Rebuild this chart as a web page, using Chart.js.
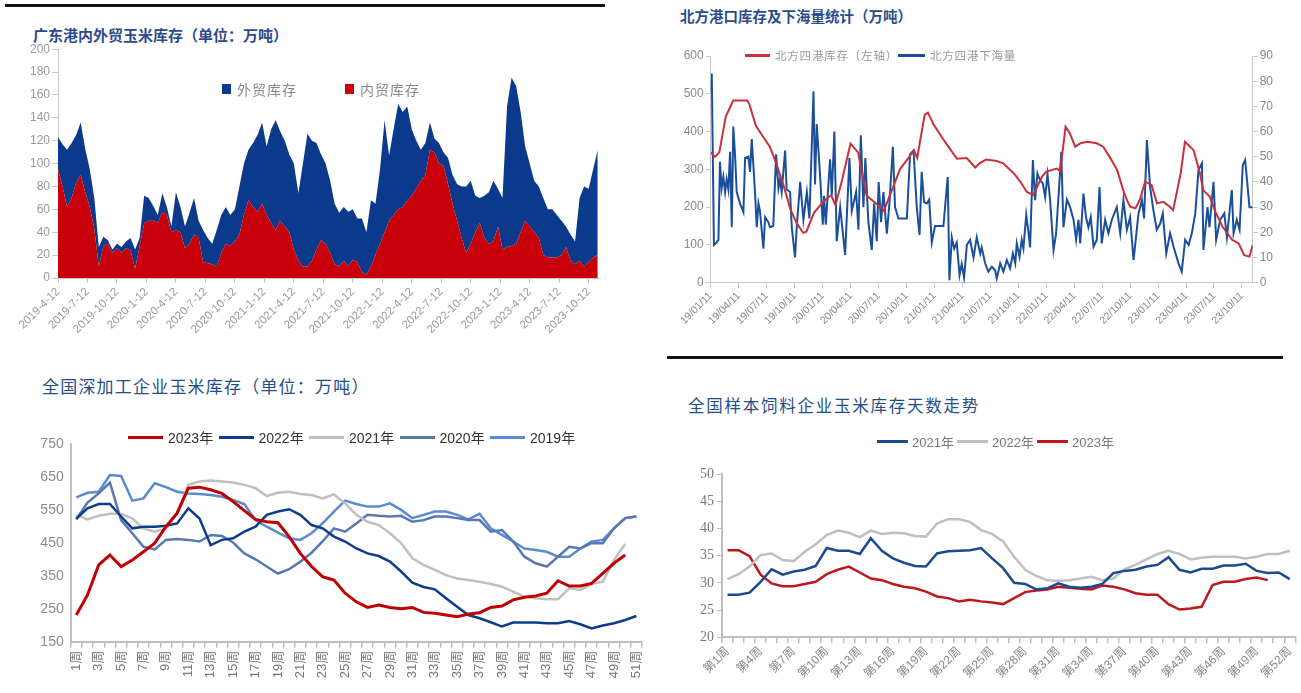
<!DOCTYPE html>
<html>
<head>
<meta charset="utf-8">
<script src="https://cdn.jsdelivr.net/npm/chart.js@4.4.0/dist/chart.umd.min.js"></script>
<style>
  body { margin: 0; background: #fff; }
  #page { position: relative; width: 1301px; height: 693px; overflow: hidden; font-family: "Liberation Sans", "Noto Sans CJK SC", sans-serif; }
  .rule { position: absolute; background: #111; }
  .title { position: absolute; white-space: nowrap; line-height: 1; font-family: "Noto Sans CJK SC", sans-serif; }
  canvas { position: absolute; }
  .legend { position: absolute; display: flex; align-items: center; white-space: nowrap; }
  .legend .item { display: flex; align-items: center; }
  .legend .mark { display: inline-block; }
</style>
</head>
<body>
<div id="page">
  <div class="rule" style="left:5px;top:4px;width:600px;height:3px"></div>
  <div class="rule" style="left:667px;top:356px;width:616px;height:3px"></div>

  <div class="title" style="left:33px;top:27px;font-size:15px;font-weight:700;color:#2b4c8c">广东港内外贸玉米库存（单位：万吨）</div>
  <div class="title" style="left:680px;top:9px;font-size:14.5px;font-weight:700;color:#2b4c8c">北方港口库存及下海量统计（万吨）</div>
  <div class="title" style="left:42px;top:377px;font-size:17px;letter-spacing:1.2px;color:#1f4e8c">全国深加工企业玉米库存（单位：万吨）</div>
  <div class="title" style="left:688px;top:397px;font-size:16.5px;letter-spacing:1.75px;color:#1f4e8c">全国样本饲料企业玉米库存天数走势</div>

  <canvas id="c1" width="610" height="310" style="left:0;top:40px"></canvas>
  <canvas id="c2" width="640" height="315" style="left:660px;top:40px"></canvas>
  <canvas id="c3" width="660" height="293" style="left:0;top:400px"></canvas>
  <canvas id="c4" width="631" height="273" style="left:670px;top:420px"></canvas>

  <div id="lg1" class="legend" style="left:222px;top:79px"></div>
  <div id="lg2" class="legend" style="left:745px;top:47px"></div>
  <div id="lg3" class="legend" style="left:128px;top:427px"></div>
  <div id="lg4" class="legend" style="left:877px;top:432px"></div>
</div>

<script>
// ---------- 广东港内外贸玉米库存 (weekly index, every 2nd week) ----------
const gzTickLabels = ["2019-4-12", "2019-7-12", "2019-10-12", "2020-1-12", "2020-4-12", "2020-7-12",
    "2020-10-12", "2021-1-12", "2021-4-12", "2021-7-12", "2021-10-12", "2022-1-12", "2022-4-12",
    "2022-7-12", "2022-10-12", "2023-1-12", "2023-4-12", "2023-7-12", "2023-10-12"];
const gzDomestic = [95, 80, 62, 70, 83, 90, 75, 62, 43, 10, 28, 30, 22, 26, 22, 26, 24, 8, 28, 48,
    50, 50, 48, 58, 55, 40, 42, 40, 26, 30, 38, 35, 14, 13, 12, 10, 22, 30, 28, 32,
    38, 55, 68, 62, 58, 65, 55, 48, 42, 50, 45, 40, 25, 15, 10, 10, 15, 25, 33, 30,
    22, 12, 10, 15, 10, 16, 14, 5, 3, 10, 20, 30, 40, 50, 55, 60, 62, 68, 72, 78,
    85, 90, 112, 110, 100, 98, 82, 65, 50, 35, 22, 30, 40, 48, 35, 30, 32, 45, 25, 27,
    28, 30, 40, 50, 45, 40, 35, 20, 18, 18, 18, 20, 27, 15, 12, 15, 10, 14, 18, 20];
const gzForeign = [28, 37, 50, 48, 42, 46, 38, 33, 27, 17, 8, 3, 3, 4, 5, 6, 11, 17, 7, 24,
    20, 13, 7, 16, 7, 5, 33, 22, 19, 27, 32, 15, 28, 22, 18, 32, 33, 32, 27, 28,
    42, 45, 44, 56, 67, 71, 60, 82, 96, 78, 75, 68, 75, 59, 90, 116, 105, 93, 75, 70,
    63, 53, 47, 47, 48, 44, 38, 47, 37, 58, 45, 65, 98, 57, 75, 92, 83, 82, 58, 42,
    27, 28, 24, 12, 18, 12, 23, 25, 32, 45, 58, 55, 32, 22, 37, 45, 53, 33, 45, 123,
    147, 138, 105, 65, 55, 45, 45, 50, 42, 42, 37, 30, 18, 23, 20, 55, 70, 64, 77, 92];
const gzWeeks = gzDomestic.map((_, i) => i * 2);

// ---------- 北方港口库存及下海量 (weeks since 19/01/11) ----------
const nTickLabels = ["19/01/11", "19/04/11", "19/07/11", "19/10/11", "20/01/11", "20/04/11", "20/07/11",
    "20/10/11", "21/01/11", "21/04/11", "21/07/11", "21/10/11", "22/01/11", "22/04/11", "22/07/11",
    "22/10/11", "23/01/11", "23/04/11", "23/07/11", "23/10/11"];
const stockWeeks = [0, 2, 4, 7, 10.5, 17, 18, 21, 24.5, 27.5, 30.5, 34, 37, 40, 43, 44.5, 48, 52.5, 56, 58,
    61, 65, 68.5, 72.5, 79, 80.5, 88, 94.5, 96, 99.5, 101, 103.5, 107.5, 110.5, 114.5, 119, 123, 125, 128, 133,
    136, 141, 144, 147, 150, 154, 156, 161, 162.5, 165, 167, 169.5, 172, 175, 179.5, 182.5, 185.5, 189, 192, 193.5,
    195, 197.5, 199.5, 202, 205, 207.5, 210.5, 213.5, 215, 218.5, 220.5, 224.5, 227.5, 229, 232, 235, 238, 242.5,
    245.5, 248, 250.5, 252];
const stockValues = [345, 333, 345, 440, 482, 482, 472, 415, 385, 360, 315, 255, 195, 157, 132, 135, 185, 215, 232, 205,
    270, 368, 345, 230, 200, 190, 300, 350, 330, 445, 450, 420, 385, 360, 328, 330, 305, 316, 326, 322,
    316, 289, 267, 240, 232, 280, 294, 302, 295, 413, 395, 360, 369, 373, 369, 360, 333, 298, 241, 219,
    201, 197, 219, 268, 258, 210, 214, 201, 192, 289, 373, 351, 289, 245, 228, 183, 148, 113,
    104, 73, 69, 100];
const shipWeeks = [0, 0.5, 1.5, 2.8, 3.6, 4.3, 5.1, 5.9, 6.7, 7.4, 8.2, 9, 9.8, 10.5, 11.3, 12.1, 13.6, 15.2, 16, 17.5,
    18.3, 19.1, 20.6, 21.4, 22.2, 22.9, 24.5, 25.3, 26.8, 27.6, 29.1, 30.4, 31.5, 32.2, 33, 34.6, 35.3, 36.9, 37.7, 39.2,
    40, 41.6, 43.1, 44.7, 45.9, 47.8, 48.5, 49.3, 50.9, 52.1, 52.7, 53.5, 55.5, 56.3, 57.5, 58.6, 60.2, 62.5, 64.5, 65.6,
    67.6, 68.7, 69.8, 71, 71.9, 73.3, 74.9, 76, 77.2, 78.1, 79.2, 80.3, 81.9, 83.1, 84.7, 85.7, 87.3, 91.2, 92.7, 94.3,
    95.8, 97.1, 98.1, 99.2, 100.5, 101.6, 102.8, 104.3, 108.2, 110.2, 111, 112.1, 113.2, 114.4, 115.7, 116.7, 117.8, 119.1, 120.6, 122.2,
    123.7, 125.3, 126, 127.6, 129.1, 130.7, 132.2, 133, 134.6, 136.1, 137.7, 139.2, 140.5, 141.6, 142.3, 143.6, 144.6, 145.4, 146.7, 147.8,
    148.5, 149.8, 150.8, 151.9, 153.1, 154.4, 155.5, 156.6, 157.8, 159.4, 160.6, 162.2, 163, 164, 165.6, 167.1, 168.7, 169.9, 171, 171.8,
    173.3, 174.5, 175.6, 176.7, 178, 179.5, 180.8, 181.8, 183.4, 184.9, 186.5, 188.8, 190.4, 191.9, 193.5, 195, 196.6, 198.9, 200.5, 201.5,
    202.8, 204.3, 205.6, 207.4, 209, 210.2, 211.8, 213.6, 215.2, 217.5, 219, 220.6, 222.2, 223.7, 225.3, 226.8, 228.4, 229.1, 231, 231.9,
    233.8, 235, 236.9, 238.8, 240, 242.3, 243.1, 244.6, 245.9, 247.4, 248.5, 250.5, 252];
const shipValues = [76, 83, 15, 16, 17, 48, 37.5, 42, 36, 41, 37, 52, 22, 62, 51, 36, 31.5, 28, 49.5, 50,
    44, 57, 36, 22, 31.5, 28.5, 13.5, 26, 24, 22, 22.5, 51, 37.5, 41, 36, 52.5, 37, 36, 22, 10,
    22, 40, 25, 36, 25.5, 76, 39, 63, 42, 23, 34.5, 23, 49, 34.5, 60, 16.5, 30, 11, 49.5, 28.5,
    36, 21, 58.5, 30, 49.5, 24, 13, 31.5, 16.5, 40, 24, 36, 19.5, 31.5, 54, 30, 25.5, 25.5, 51, 52.5,
    30, 19, 44, 32, 31.5, 33, 16, 22.5, 22.5, 42, 1, 18, 13.5, 16, 3, 7.5, 2, 15, 17, 10,
    18, 11.6, 14, 7.7, 4.4, 6.3, 5, 1.7, 7.7, 4.4, 9, 5.7, 11.6, 7.7, 15.6, 10.3, 17, 13.6, 26.9, 19.6,
    14, 48.7, 32.8, 43.4, 40.7, 39.4, 34, 43, 33, 13, 19.6, 40.7, 52, 22, 33, 30, 25, 17, 25, 15.6,
    35.4, 26, 22, 26, 14.3, 17, 38, 15.6, 25, 19.6, 25, 30, 19.6, 32.8, 21, 26, 9, 27.5, 32.8, 25.5,
    56.6, 38, 30, 21, 23.5, 27.5, 11.6, 19.6, 14.3, 7.7, 4.4, 17, 15, 19.6, 27.5, 44.7, 47.4, 13, 30, 22,
    40, 17, 25, 27.5, 18, 36.8, 19.6, 25, 21, 46.7, 48.7, 30, 30];

// ---------- 全国深加工企业玉米库存 ----------
const deepWeeks = Array.from({ length: 51 }, (_, i) => (i + 1) + "周");
const deep2023 = [231, 292, 383, 413, 378, 398, 423, 449, 499, 540, 616, 619, 611, 600, 575, 548, 521, 514, 511, 469,
    418, 378, 347, 337, 297, 271, 254, 261, 254, 250, 254, 239, 236, 231, 226, 234, 238, 254, 258, 277,
    285, 289, 297, 335, 319, 319, 327, 357, 388, 413];
const deep2022 = [524, 555, 568, 568, 530, 494, 499, 499, 502, 509, 555, 524, 443, 459, 464, 484, 499, 535, 545, 552,
    535, 504, 494, 469, 454, 433, 418, 410, 393, 363, 329, 316, 309, 282, 256, 231, 221, 209, 196, 208,
    208, 208, 206, 206, 213, 203, 190, 199, 206, 216, 228];
const deep2021 = [535, 521, 532, 538, 538, 524, 494, 484, 494, 540, 626, 636, 639, 636, 633, 626, 616, 592, 602, 605,
    598, 595, 585, 597, 570, 535, 514, 504, 479, 449, 403, 383, 368, 352, 342, 337, 332, 325, 317, 302,
    287, 282, 279, 279, 312, 307, 325, 332, 398, 447];
const deep2020 = [521, 572, 600, 633, 519, 479, 438, 430, 459, 462, 459, 454, 474, 471, 451, 418, 400, 378, 357, 370,
    393, 420, 455, 494, 484, 509, 535, 532, 530, 532, 514, 519, 530, 530, 525, 519, 519, 484, 489, 454,
    408, 388, 378, 408, 438, 433, 449, 449, 494, 525, 530];
const deep2019 = [588, 602, 605, 656, 653, 578, 585, 631, 619, 605, 600, 598, 595, 590, 580, 568, 519, 499, 481, 464,
    459, 479, 510, 545, 578, 568, 560, 560, 570, 550, 525, 535, 545, 545, 535, 521, 538, 494, 474, 454,
    433, 428, 423, 408, 408, 433, 454, 459, 494, 525, 530];

// ---------- 全国样本饲料企业玉米库存天数 ----------
const feedWeeks = Array.from({ length: 52 }, (_, i) => "第" + (i + 1) + "周");
const feed2021 = [27.8, 27.8, 28.2, 30.2, 32.5, 31.5, 32.1, 32.4, 33.1, 36.4, 35.9, 35.9, 35.3, 38.2, 35.9, 34.5, 33.7, 33.1, 33.0, 35.4,
    35.8, 35.9, 36.0, 36.4, 34.5, 32.7, 30.0, 29.8, 28.8, 29.0, 29.9, 29.3, 29.1, 29.3, 29.8, 31.8, 32.2, 32.4, 33.0, 33.3,
    34.7, 32.4, 31.9, 32.6, 32.6, 33.2, 33.2, 33.5, 32.2, 31.8, 31.9, 30.7];
const feed2022 = [30.7, 31.6, 33.0, 35.1, 35.4, 34.2, 34.0, 35.7, 37.1, 38.8, 39.6, 39.2, 38.4, 39.6, 39.0, 39.2, 39.1, 38.6, 38.5, 40.9,
    41.7, 41.7, 41.2, 39.7, 39.0, 37.6, 34.8, 32.4, 31.3, 30.5, 30.4, 30.5, 30.8, 31.1, 30.5, 30.8, 32.5, 33.3, 34.3, 35.3,
    35.9, 35.3, 34.3, 34.6, 34.8, 34.8, 34.8, 34.5, 34.8, 35.3, 35.3, 35.9];
const feed2023 = [36.0, 36.0, 34.9, 31.5, 29.9, 29.4, 29.4, 29.8, 30.2, 31.6, 32.4, 33.0, 31.9, 30.8, 30.5, 29.8, 29.3, 29.0, 28.4, 27.5,
    27.2, 26.6, 26.9, 26.6, 26.4, 26.1, 27.2, 28.3, 28.6, 28.8, 29.3, 29.1, 28.9, 28.8, 29.5, 29.3, 28.8, 28.1, 27.8, 27.8,
    26.1, 25.1, 25.3, 25.6, 29.6, 30.2, 30.2, 30.7, 31.0, 30.5];

Chart.defaults.animation = false;
Chart.defaults.font.family = '"Liberation Sans", "Noto Sans CJK SC", sans-serif';
Chart.defaults.plugins.legend.display = false;
Chart.defaults.plugins.tooltip.enabled = false;
Chart.defaults.elements.point.radius = 0;
Chart.defaults.elements.line.tension = 0;

function pts(xs, ys) {
    return ys.map((y, i) => ({ x: xs[i], y: y }));
}

// html legend, fixed width per item
function legend(id, items, o) {
    const box = document.getElementById(id);
    items.forEach(it => {
        const d = document.createElement("div");
        d.className = "item";
        d.style.width = o.itemWidth + "px";
        const m = document.createElement("span");
        m.className = "mark";
        m.style.width = o.markW + "px";
        m.style.height = o.markH + "px";
        m.style.background = it.color;
        m.style.marginRight = o.gap + "px";
        const t = document.createElement("span");
        t.textContent = it.label;
        t.style.fontSize = o.size + "px";
        t.style.color = o.textColor;
        if (o.family) t.style.fontFamily = o.family;
        if (o.spacing) t.style.letterSpacing = o.spacing + "px";
        d.appendChild(m);
        d.appendChild(t);
        box.appendChild(d);
    });
}

const axisGrey = "#c8c8c8";

// chart 1
new Chart(document.getElementById("c1"), {
    type: "line",
    data: {
        datasets: [
            { label: "内贸库存", data: pts(gzWeeks, gzDomestic), backgroundColor: "#c8000a", borderWidth: 0, fill: "origin" },
            { label: "外贸库存", data: pts(gzWeeks, gzForeign), backgroundColor: "#0b3a8c", borderWidth: 0, fill: "-1" }
        ]
    },
    options: {
        responsive: false,
        devicePixelRatio: 1,
        layout: { padding: { left: 0, right: 10, top: 8, bottom: 0 } },
        scales: {
            x: {
                type: "linear", min: 0, max: 239,
                afterBuildTicks: s => { s.ticks = gzTickLabels.map((_, i) => ({ value: i * 13 })); },
                ticks: { autoSkip: false, minRotation: 45, maxRotation: 45, color: "#999", font: { size: 11.5 }, padding: 2,
                    callback: (v, i) => gzTickLabels[i] },
                grid: { drawOnChartArea: false, tickLength: 5, color: axisGrey },
                border: { color: axisGrey },
                afterFit: s => { s.height = 72; }
            },
            y: {
                stacked: true, min: 0, max: 200,
                ticks: { stepSize: 20, color: "#999", font: { size: 12 }, padding: 2 },
                grid: { drawOnChartArea: false, tickLength: 6, color: axisGrey },
                border: { color: axisGrey },
                afterFit: s => { s.width = 58; }
            }
        }
    }
});
legend("lg1", [{ label: "外贸库存", color: "#0b3a8c" }, { label: "内贸库存", color: "#c8000a" }],
    { itemWidth: 123, markW: 9, markH: 10, gap: 6, size: 14, textColor: "#888", family: '"Noto Sans CJK SC"', spacing: 1 });

// chart 2
new Chart(document.getElementById("c2"), {
    type: "line",
    data: {
        datasets: [
            { label: "北方四港库存（左轴）", data: pts(stockWeeks, stockValues), borderColor: "#c9303e", borderWidth: 2, yAxisID: "y" },
            { label: "北方四港下海量", data: pts(shipWeeks, shipValues), borderColor: "#1b4f9c", borderWidth: 2, yAxisID: "y2" }
        ]
    },
    options: {
        responsive: false,
        devicePixelRatio: 1,
        layout: { padding: { left: 0, right: 0, top: 16, bottom: 0 } },
        scales: {
            x: {
                type: "linear", min: 0, max: 252,
                afterBuildTicks: s => { s.ticks = nTickLabels.map((_, i) => ({ value: i * 13 })); },
                ticks: { autoSkip: false, minRotation: 45, maxRotation: 45, color: "#888", font: { size: 10.5 }, padding: 2,
                    callback: (v, i) => nTickLabels[i] },
                grid: { drawOnChartArea: false, tickLength: 5, color: axisGrey },
                border: { color: axisGrey },
                afterFit: s => { s.height = 72.3; }
            },
            y: {
                position: "left", min: 0, max: 600,
                ticks: { stepSize: 100, color: "#888", font: { size: 12 }, padding: 2 },
                grid: { drawOnChartArea: false, tickLength: 5, color: axisGrey },
                border: { color: axisGrey },
                afterFit: s => { s.width = 50.7; }
            },
            y2: {
                position: "right", min: 0, max: 90,
                ticks: { stepSize: 10, color: "#888", font: { size: 12 }, padding: 2 },
                grid: { drawOnChartArea: false, tickLength: 5, color: axisGrey },
                border: { color: axisGrey },
                afterFit: s => { s.width = 47.3; }
            }
        }
    }
});
legend("lg2", [{ label: "北方四港库存（左轴）", color: "#c9303e" }, { label: "北方四港下海量", color: "#1b4f9c" }],
    { itemWidth: 153, markW: 27, markH: 3, gap: 5, size: 11.5, textColor: "#999", family: '"Noto Sans CJK SC"', spacing: 0.8 });

// chart 3
const deepSeries = [
    { label: "2023年", data: deep2023, color: "#c00000", width: 3 },
    { label: "2022年", data: deep2022, color: "#0e3c8c", width: 2.5 },
    { label: "2021年", data: deep2021, color: "#bfbfbf", width: 2.5 },
    { label: "2020年", data: deep2020, color: "#5877b3", width: 2.5 },
    { label: "2019年", data: deep2019, color: "#5a8ad0", width: 2.5 }
];
new Chart(document.getElementById("c3"), {
    type: "line",
    data: {
        labels: deepWeeks,
        datasets: deepSeries.map(s => ({ label: s.label, data: s.data, borderColor: s.color, borderWidth: s.width }))
    },
    options: {
        responsive: false,
        devicePixelRatio: 1,
        layout: { padding: { left: 0, right: 18, top: 44, bottom: 0 } },
        scales: {
            x: {
                offset: true,
                ticks: { autoSkip: false, minRotation: 90, maxRotation: 90, color: "#777", font: { size: 13 }, padding: 3,
                    callback: (v, i) => (i % 2 === 0 ? deepWeeks[i] : "") },
                grid: { offset: true, drawOnChartArea: false, tickLength: 6, color: "#bfbfbf", lineWidth: 1.5 },
                border: { color: "#bfbfbf", width: 2 },
                afterFit: s => { s.height = 51.3; }
            },
            y: {
                min: 150, max: 750,
                ticks: { stepSize: 100, color: "#8c8c8c", font: { size: 14 }, padding: 7 },
                grid: { drawOnChartArea: false, drawTicks: false, color: "#bfbfbf" },
                border: { color: "#bfbfbf", width: 2 },
                afterFit: s => { s.width = 70.7; }
            }
        }
    }
});
legend("lg3", deepSeries, { itemWidth: 90.5, markW: 35, markH: 3, gap: 5, size: 14, textColor: "#333" });

// chart 4
const feedSeries = [
    { label: "2021年", data: feed2021, color: "#1a4a8f" },
    { label: "2022年", data: feed2022, color: "#bfbfbf" },
    { label: "2023年", data: feed2023, color: "#c0161e" }
];
new Chart(document.getElementById("c4"), {
    type: "line",
    data: {
        labels: feedWeeks,
        datasets: feedSeries.map(s => ({ label: s.label, data: s.data, borderColor: s.color, borderWidth: 2.5 }))
    },
    options: {
        responsive: false,
        devicePixelRatio: 1,
        layout: { padding: { left: 0, right: 4, top: 54, bottom: 0 } },
        scales: {
            x: {
                offset: true,
                ticks: { autoSkip: false, minRotation: 45, maxRotation: 45, color: "#888", font: { size: 12 }, padding: 1,
                    callback: (v, i) => (i % 3 === 0 ? feedWeeks[i] : "") },
                grid: { offset: true, drawOnChartArea: false, tickLength: 6, color: "#bfbfbf", lineWidth: 1.5 },
                border: { color: "#bfbfbf", width: 2 },
                afterFit: s => { s.height = 55.7; }
            },
            y: {
                min: 20, max: 50,
                ticks: { stepSize: 5, color: "#777", font: { size: 14, family: '"Liberation Serif", serif' }, padding: 3 },
                grid: { drawOnChartArea: false, tickLength: 5, color: "#bfbfbf" },
                border: { color: "#bfbfbf", width: 2 },
                afterFit: s => { s.width = 52; }
            }
        }
    }
});
legend("lg4", feedSeries, { itemWidth: 80, markW: 31, markH: 3, gap: 4, size: 13, textColor: "#777" });
</script>
</body>
</html>
